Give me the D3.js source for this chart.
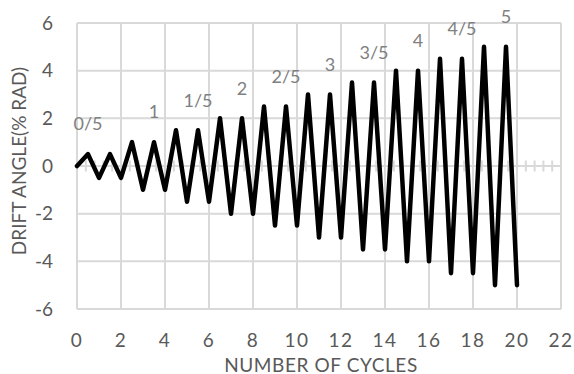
<!DOCTYPE html>
<html><head><meta charset="utf-8">
<script src="https://cdn.jsdelivr.net/npm/d3@7"></script>
<style>html,body{margin:0;padding:0;background:#fff;}svg{display:block;}</style>
</head><body>
<script>
const cycles = [0,0.5,1,1.5,2,2.5,3,3.5,4,4.5,5,5.5,6,6.5,7,7.5,8,8.5,9,9.5,10,10.5,11,11.5,12,12.5,13,13.5,14,14.5,15,15.5,16,16.5,17,17.5,18,18.5,19,19.5,20];
const drift = [0,0.5,-0.5,0.5,-0.5,1,-1,1,-1,1.5,-1.5,1.5,-1.5,2,-2,2,-2,2.5,-2.5,2.5,-2.5,3,-3,3,-3,3.5,-3.5,3.5,-3.5,4,-4,4,-4,4.5,-4.5,4.5,-4.5,5,-5,5,-5];
const labelX = [0.5,3.5,5.5,7.5,9.5,11.5,13.5,15.5,17.5,19.5];
const labelY = [0.5,1,1.5,2,2.5,3,3.5,4,4.5,5];
const labelText = ["0/5","1","1/5","2","2/5","3","3/5","4","4/5","5"];
const xTicks = [0,2,4,6,8,10,12,14,16,18,20,22];
const yTicks = [-6,-4,-2,0,2,4,6];
const xTitle = "NUMBER OF CYCLES";
const yTitle = "DRIFT ANGLE(% RAD)";

const W = 574, H = 374;
const font = "Lato, 'Open Sans', sans-serif";
const svg = d3.select("body").append("svg").attr("width", W).attr("height", H);
const x = d3.scaleLinear().domain([0,22]).range([77,561]);
const y = d3.scaleLinear().domain([-6,6]).range([309,23]);
const grid = "#d9d9d9";

// gridlines
svg.append("g").selectAll("line").data(xTicks).join("line")
  .attr("x1", d=>x(d)).attr("x2", d=>x(d)).attr("y1", y(6)).attr("y2", y(-6))
  .attr("stroke", grid).attr("stroke-width", 2);
svg.append("g").selectAll("line").data(yTicks).join("line")
  .attr("x1", x(0)).attr("x2", x(22)).attr("y1", d=>y(d)).attr("y2", d=>y(d))
  .attr("stroke", grid).attr("stroke-width", 2);

// minor ticks on x axis at y=0
const minor = d3.range(0, 22.001, 0.4).filter(v => Math.abs(v/2 - Math.round(v/2)) > 1e-6);
svg.append("g").selectAll("line").data(minor).join("line")
  .attr("x1", d=>x(d)).attr("x2", d=>x(d)).attr("y1", y(0)-5.5).attr("y2", y(0)+5.5)
  .attr("stroke", grid).attr("stroke-width", 2);

// axis tick labels
svg.append("g").selectAll("text").data(yTicks).join("text")
  .attr("x", 53).attr("y", d=>y(d)).attr("dy", "0.35em")
  .attr("text-anchor", "end").attr("font-family", font).attr("font-size", 19)
  .attr("fill", "#595959").text(d=>d);
svg.append("g").selectAll("text").data(xTicks).join("text")
  .attr("x", d=>x(d)).attr("y", 340).attr("dy", "0.35em")
  .attr("text-anchor", "middle").attr("font-family", font).attr("font-size", 19)
  .attr("letter-spacing", 1.5)
  .attr("fill", "#595959").text(d=>d);

// titles
svg.append("text").attr("x", 321).attr("y", 365).attr("dy", "0.35em")
  .attr("text-anchor", "middle").attr("font-family", font).attr("font-size", 19)
  .attr("letter-spacing", 0.6)
  .attr("fill", "#595959").text(xTitle);
svg.append("text").attr("transform", "translate(19,161) rotate(-90)").attr("dy", "0.35em")
  .attr("text-anchor", "middle").attr("font-family", font).attr("font-size", 19)
  .attr("fill", "#595959").text(yTitle);

// line
const line = d3.line().x((d,i)=>x(cycles[i])).y(d=>y(d));
svg.append("path").datum(drift).attr("d", line)
  .attr("fill", "none").attr("stroke", "#000").attr("stroke-width", 4.5)
  .attr("stroke-linejoin", "round").attr("stroke-linecap", "round");

// data labels
svg.append("g").selectAll("text").data(labelText).join("text")
  .attr("x", (d,i)=>x(labelX[i])).attr("y", (d,i)=>y(labelY[i]) - 30).attr("dy", "0.35em")
  .attr("text-anchor", "middle").attr("font-family", font).attr("font-size", 18)
  .attr("fill", "#808080").text(d=>d);
</script>
</body></html>
